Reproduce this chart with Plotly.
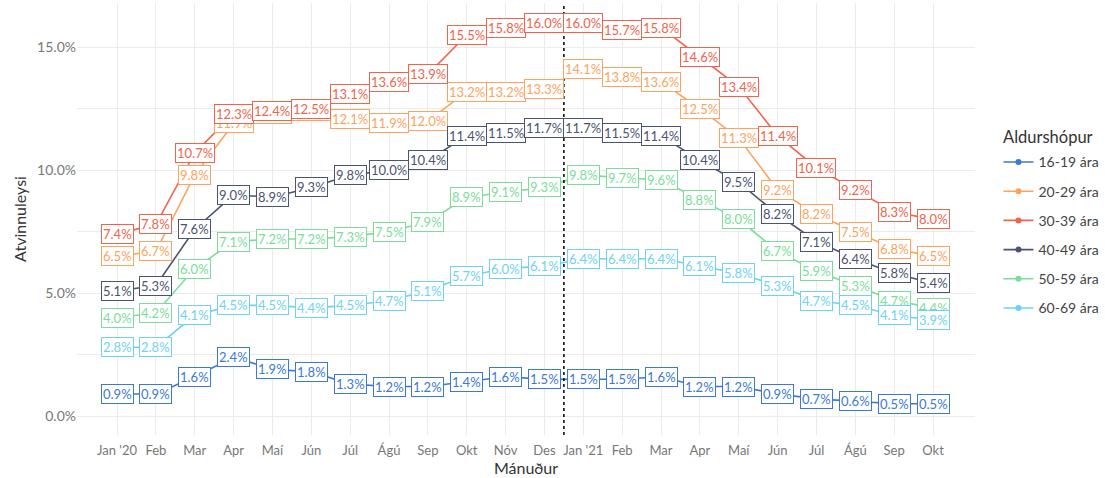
import plotly.graph_objects as go

months = ["Jan '20", "Feb", "Mar", "Apr", "Maí", "Jún", "Júl", "Ágú", "Sep", "Okt", "Nóv", "Des",
          "Jan '21", "Feb", "Mar", "Apr", "Maí", "Jún", "Júl", "Ágú", "Sep", "Okt"]

age_16_19 = [0.9, 0.9, 1.6, 2.4, 1.9, 1.8, 1.3, 1.2, 1.2, 1.4, 1.6, 1.5, 1.5, 1.5, 1.6, 1.2, 1.2, 0.9, 0.7, 0.6, 0.5, 0.5]
age_20_29 = [6.5, 6.7, 9.8, 11.9, 12.3, 12.4, 12.1, 11.9, 12.0, 13.2, 13.2, 13.3, 14.1, 13.8, 13.6, 12.5, 11.3, 9.2, 8.2, 7.5, 6.8, 6.5]
age_30_39 = [7.4, 7.8, 10.7, 12.3, 12.4, 12.5, 13.1, 13.6, 13.9, 15.5, 15.8, 16.0, 16.0, 15.7, 15.8, 14.6, 13.4, 11.4, 10.1, 9.2, 8.3, 8.0]
age_40_49 = [5.1, 5.3, 7.6, 9.0, 8.9, 9.3, 9.8, 10.0, 10.4, 11.4, 11.5, 11.7, 11.7, 11.5, 11.4, 10.4, 9.5, 8.2, 7.1, 6.4, 5.8, 5.4]
age_50_59 = [4.0, 4.2, 6.0, 7.1, 7.2, 7.2, 7.3, 7.5, 7.9, 8.9, 9.1, 9.3, 9.8, 9.7, 9.6, 8.8, 8.0, 6.7, 5.9, 5.3, 4.7, 4.4]
age_60_69 = [2.8, 2.8, 4.1, 4.5, 4.5, 4.4, 4.5, 4.7, 5.1, 5.7, 6.0, 6.1, 6.4, 6.4, 6.4, 6.1, 5.8, 5.3, 4.7, 4.5, 4.1, 3.9]

series_names = ["16-19 ára", "20-29 ára", "30-39 ára", "40-49 ára", "50-59 ára", "60-69 ára"]
series_values = [age_16_19, age_20_29, age_30_39, age_40_49, age_50_59, age_60_69]
colors = ["#3B78D8", "#FCA35F", "#F0634C", "#4A5372", "#7DDC9B", "#6FD2F2"]

y_ticks = [0, 5, 10, 15]
y_tick_text = ["0.0%", "5.0%", "10.0%", "15.0%"]

x = list(range(len(months)))
FONT = "Lato, Inter, sans-serif"

fig = go.Figure()
annotations = []
for name, vals, col in zip(series_names, series_values, colors):
    fig.add_trace(go.Scatter(
        x=x, y=vals, name=name, mode="lines+markers",
        line=dict(color=col, width=1.6),
        marker=dict(color=col, size=6),
        legendgroup=name,
        hoverinfo="skip",
    ))
    for xi, v in zip(x, vals):
        annotations.append(dict(
            x=xi, y=v, xref="x", yref="y", text=f"{v:.1f}%", showarrow=False,
            font=dict(family=FONT, size=13, color=col),
            bgcolor="white", bordercolor=col, borderwidth=1, borderpad=1,
        ))

# legend title as free text (to reproduce its spacing above the entries)
annotations.append(dict(
    x=1.029, y=0.69, xref="paper", yref="paper", xanchor="left", yanchor="middle",
    text="Aldurshópur", showarrow=False,
    font=dict(family=FONT, size=16.5, color="#333"),
))

fig.add_shape(type="line", x0=11.5, x1=11.5, y0=0, y1=1, xref="x", yref="paper",
              line=dict(color="black", width=1.5, dash="dot"))

fig.update_layout(
    width=1106, height=478,
    margin=dict(l=77, r=130, t=3, b=43),
    paper_bgcolor="white", plot_bgcolor="white",
    font=dict(family=FONT, color="#333"),
    annotations=annotations,
    showlegend=True,
    legend=dict(
        font=dict(family=FONT, size=14, color="#444"),
        x=1.025, xanchor="left", y=0.462, yanchor="middle",
        tracegroupgap=8,
        bgcolor="rgba(0,0,0,0)",
    ),
    xaxis=dict(
        range=[-1.03, 22.08], automargin=False,
        tickmode="array", tickvals=x, ticktext=months,
        showgrid=True, gridcolor="#EBEBEB", gridwidth=1,
        zeroline=False, showline=False, ticks="",
        ticklabelstandoff=6,
        tickfont=dict(family=FONT, size=13, color="#777"),
        title=dict(text="Mánuður", font=dict(family=FONT, size=16, color="#333"), standoff=2),
    ),
    yaxis=dict(
        range=[-0.77, 16.8], automargin=False,
        tickmode="array", tickvals=y_ticks, ticktext=y_tick_text,
        showgrid=True, gridcolor="#EBEBEB", gridwidth=1,
        minor=dict(dtick=2.5, tick0=0, showgrid=True, gridcolor="#EBEBEB", gridwidth=1),
        zeroline=False, showline=False, ticks="",
        tickfont=dict(family=FONT, size=14, color="#777"),
        title=dict(text="Atvinnuleysi", font=dict(family=FONT, size=16, color="#333"), standoff=6),
    ),
)

fig.write_html("out.html", config={"displayModeBar": False},
               post_script="document.body.style.margin='0';")
